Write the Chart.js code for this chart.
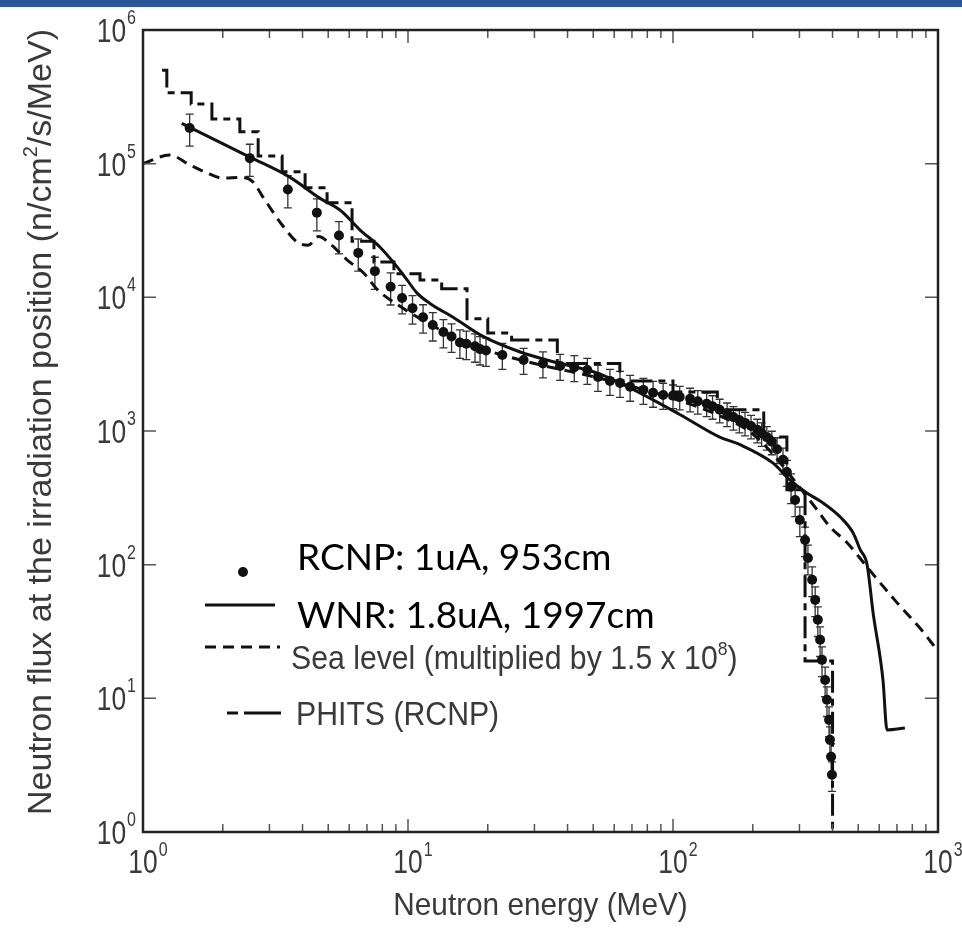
<!DOCTYPE html>
<html>
<head>
<meta charset="utf-8">
<script src="https://cdn.jsdelivr.net/npm/chart.js@4.4.0/dist/chart.umd.min.js"></script>
<style>
html, body { margin: 0; padding: 0; background: #fff; }
#bar { position: absolute; left: 0; top: 0; width: 962px; height: 7px; background: #2b5797; }
#flux { position: absolute; left: 0; top: 0; }
</style>
</head>
<body>
<canvas id="flux" width="962" height="937"></canvas>
<div id="bar"></div>
<script>
// RCNP measured spectrum (MeV, n/cm2/s/MeV) and relative errors
var rcnpE = [1.5, 2.53, 3.52, 4.53, 5.49, 6.49, 7.5, 8.6, 9.5, 10.4, 11.4, 12.4, 13.6, 14.6, 15.7, 16.6, 17.9, 18.7, 19.7, 22.7,
  27.3, 32.3, 37.5, 42.4, 47.5, 52.1, 57.8, 63.1, 68.9, 77.3, 84.1, 91.8, 100, 106, 116, 124, 134, 141, 150, 160,
  169, 178, 187, 197, 208, 216, 226, 236, 247, 260, 269, 279, 289, 301, 315, 323, 335, 344, 352, 359,
  365, 375, 381, 388, 391, 395, 398];
var rcnpF = [1.85e5, 1.10e5, 6.4e4, 4.3e4, 2.9e4, 2.15e4, 1.57e4, 1.2e4, 9.9e3, 8.3e3, 7.1e3, 6.2e3, 5.5e3, 5.1e3, 4.6e3, 4.5e3, 4.3e3, 4.1e3, 4.0e3, 3.7e3,
  3.4e3, 3.2e3, 3.07e3, 3.0e3, 2.86e3, 2.54e3, 2.37e3, 2.29e3, 2.14e3, 2.03e3, 1.93e3, 1.86e3, 1.84e3, 1.8e3, 1.74e3, 1.67e3, 1.6e3, 1.53e3, 1.44e3, 1.35e3,
  1.27e3, 1.21e3, 1.15e3, 1.09e3, 1.02e3, 960, 900, 830, 730, 610, 494, 382, 305, 216, 153, 112, 77, 54.5, 38.7, 27.4,
  19.4, 13.7, 9.75, 6.9, 4.9, 3.66, 2.68];
var rcnpErr = [0.27, 0.27, 0.27, 0.27, 0.27, 0.27, 0.27, 0.27, 0.24, 0.24, 0.24, 0.24, 0.24, 0.24, 0.24, 0.24, 0.24, 0.24, 0.24, 0.22,
  0.22, 0.22, 0.22, 0.22, 0.22, 0.22, 0.22, 0.22, 0.22, 0.22, 0.22, 0.22, 0.2, 0.2, 0.2, 0.2, 0.2, 0.2, 0.2, 0.2,
  0.2, 0.2, 0.2, 0.2, 0.2, 0.2, 0.2, 0.2, 0.22, 0.22, 0.22, 0.25, 0.25, 0.25, 0.25, 0.25, 0.25, 0.25, 0.25, 0.25,
  0.25, 0.25, 0.25, 0.25, 0.25, 0.25, 0.25];

// WNR spectrum (solid)
var wnrE = [1.4, 2.53, 3.59, 4.66, 5.54, 6.58, 7.83, 9.1, 9.92, 10.8, 12.1, 14.8, 19.2, 26.5, 35.3, 51.6, 70.6, 106, 150, 179,
  238, 276, 320, 368, 427, 478, 508, 540, 569, 620, 642, 750];
var wnrF = [2.0e5, 1.12e5, 7.9e4, 5.5e4, 4.5e4, 3.2e4, 2.38e4, 1.69e4, 1.35e4, 1.08e4, 9.0e3, 7.1e3, 5.1e3, 3.9e3, 3.3e3, 2.72e3, 2.05e3, 1.33e3, 900, 790,
  577, 431, 344, 290, 228, 173, 130, 100, 43.6, 13.7, 5.8, 6.0];

// Sea level spectrum x 1.5e8 (dashed)
var seaE = [1.0, 1.26, 1.5, 1.75, 2.0, 2.35, 2.6, 2.84, 3.38, 3.81, 4.2, 4.6, 5.1, 5.9, 6.8, 7.7, 9.3, 11, 14, 20,
  30, 50, 70, 100, 150, 200, 250, 300, 350, 391, 454, 540, 700, 850, 1000];
var seaF = [1.0e5, 1.16e5, 9.8e4, 8.5e4, 7.8e4, 7.9e4, 7.3e4, 5.6e4, 3.4e4, 2.6e4, 2.45e4, 2.85e4, 2.5e4, 1.9e4, 1.52e4, 1.13e4, 8.6e3, 7.0e3, 5.4e3, 4.0e3,
  3.2e3, 2.55e3, 2.15e3, 1.75e3, 1.3e3, 950, 600, 380, 257, 192, 146, 96, 52, 34, 22.6];

// PHITS histogram: bin left edges and bin values
var phitsE = [1.18, 1.23, 1.52, 1.82, 2.32, 2.72, 3.35, 4.09, 4.95, 6.15, 7.44, 8.85, 11.1, 13.4, 16.7, 20.0, 24.6, 36.6, 63, 100,
  147, 220, 269, 315, 400];
var phitsF = [5.0e5, 3.4e5, 2.8e5, 2.16e5, 1.73e5, 1.14e5, 8.7e4, 6.6e4, 5.1e4, 2.63e4, 1.84e4, 1.5e4, 1.35e4, 1.16e4, 6.9e3, 5.4e3, 4.8e3, 3.2e3, 2.37e3, 1.96e3,
  1.44e3, 900, 363, 19, 0.5];

// axes
var xDecades = [1, 10, 100, 1000];
var xExponents = ['0', '1', '2', '3'];
var yDecades = [1, 10, 100, 1000, 1e4, 1e5, 1e6];
var yExponents = ['0', '1', '2', '3', '4', '5', '6'];
var minorSteps = [2, 3, 4, 5, 6, 7, 8, 9];

function pts(xs, ys) {
  return xs.map(function (x, i) { return { x: x, y: ys[i] }; });
}

var GREY = '#3a3a3a';
var HELV = 'Liberation Sans, Arial, sans-serif';

function txt(ctx, s, x, y, size, sx, align, color, family) {
  ctx.save();
  ctx.font = size + 'px ' + (family || HELV);
  ctx.fillStyle = color || GREY;
  ctx.textBaseline = 'alphabetic';
  ctx.textAlign = 'left';
  var w = ctx.measureText(s).width * sx;
  var x0 = align === 'center' ? x - w / 2 : (align === 'right' ? x - w : x);
  ctx.translate(x0, y);
  ctx.scale(sx, 1);
  ctx.fillText(s, 0, 0);
  ctx.restore();
  return w;
}

function textWidth(ctx, s, size, sx, family) {
  ctx.save();
  ctx.font = size + 'px ' + (family || HELV);
  var w = ctx.measureText(s).width * sx;
  ctx.restore();
  return w;
}

var errorBars = {
  id: 'errorBars',
  beforeDatasetsDraw: function (chart) {
    var ctx = chart.ctx, xs = chart.scales.x, ys = chart.scales.y;
    ctx.save();
    ctx.strokeStyle = '#333';
    ctx.lineWidth = 1.3;
    rcnpE.forEach(function (e, i) {
      var px = xs.getPixelForValue(e);
      var top = ys.getPixelForValue(rcnpF[i] * (1 + rcnpErr[i]));
      var bot = ys.getPixelForValue(rcnpF[i] * (1 - rcnpErr[i]));
      ctx.beginPath();
      ctx.moveTo(px, top); ctx.lineTo(px, bot);
      ctx.moveTo(px - 4, top); ctx.lineTo(px + 4, top);
      ctx.moveTo(px - 4, bot); ctx.lineTo(px + 4, bot);
      ctx.stroke();
    });
    ctx.restore();
  }
};

var frame = {
  id: 'frame',
  afterDraw: function (chart) {
    var ctx = chart.ctx, a = chart.chartArea, xs = chart.scales.x, ys = chart.scales.y;
    ctx.save();
    // ticks, inside the frame
    ctx.strokeStyle = '#555';
    ctx.lineWidth = 1.5;
    ctx.beginPath();
    xDecades.forEach(function (d, k) {
      var px = xs.getPixelForValue(d);
      ctx.moveTo(px, a.bottom); ctx.lineTo(px, a.bottom - 13);
      ctx.moveTo(px, a.top); ctx.lineTo(px, a.top + 13);
      if (k < xDecades.length - 1) {
        minorSteps.forEach(function (m) {
          var qx = xs.getPixelForValue(d * m);
          ctx.moveTo(qx, a.bottom); ctx.lineTo(qx, a.bottom - 8);
          ctx.moveTo(qx, a.top); ctx.lineTo(qx, a.top + 8);
        });
      }
    });
    yDecades.forEach(function (d) {
      var py = ys.getPixelForValue(d);
      ctx.moveTo(a.left, py); ctx.lineTo(a.left + 13, py);
      ctx.moveTo(a.right, py); ctx.lineTo(a.right - 13, py);
    });
    ctx.stroke();
    ctx.strokeStyle = '#222';
    ctx.lineWidth = 2.5;
    ctx.strokeRect(a.left, a.top, a.right - a.left, a.bottom - a.top);

    // tick labels 10^n
    var ts = 33, tsx = 0.8, es = 20;
    xDecades.forEach(function (d, k) {
      var px = xs.getPixelForValue(d);
      var w = txt(ctx, '10', px, a.bottom + 41, ts, tsx, 'center');
      txt(ctx, xExponents[k], px + w / 2 + 1, a.bottom + 24, es, tsx, 'left');
    });
    yDecades.forEach(function (d, k) {
      var py = ys.getPixelForValue(d);
      var ew = textWidth(ctx, yExponents[k], es, tsx);
      var right = a.left - 7;
      txt(ctx, yExponents[k], right, py - 6, es, tsx, 'right');
      txt(ctx, '10', right - ew - 1, py + 12, ts, tsx, 'right');
    });

    // axis titles
    txt(ctx, 'Neutron energy (MeV)', (a.left + a.right) / 2, 915, 32, 0.93, 'center');
    ctx.save();
    ctx.translate(51, (a.top + a.bottom) / 2 - 9);
    ctx.rotate(-Math.PI / 2);
    var p1 = 'Neutron flux at the irradiation position (n/cm', p2 = '2', p3 = '/s/MeV)';
    var tsz = 34, tx = 1.0;
    var w1 = textWidth(ctx, p1, tsz, tx), w2 = textWidth(ctx, p2, 20, tx), w3 = textWidth(ctx, p3, tsz, tx);
    var start = -(w1 + w2 + w3) / 2;
    txt(ctx, p1, start, 0, tsz, tx, 'left');
    txt(ctx, p2, start + w1, -14, 20, tx, 'left');
    txt(ctx, p3, start + w1 + w2, 0, tsz, tx, 'left');
    ctx.restore();

    // legend: original entries
    ctx.strokeStyle = '#111';
    ctx.lineWidth = 3;
    ctx.setLineDash([11, 7]);
    ctx.beginPath(); ctx.moveTo(205, 647); ctx.lineTo(280, 647); ctx.stroke();
    var sw = txt(ctx, 'Sea level (multiplied by 1.5 x 10', 291, 669, 32.5, 0.93, 'left');
    var ew8 = txt(ctx, '8', 291 + sw, 655, 19, 0.93, 'left');
    txt(ctx, ')', 291 + sw + ew8, 669, 32.5, 0.93, 'left');
    ctx.setLineDash([11, 6, 36, 0]);
    ctx.beginPath(); ctx.moveTo(227, 713); ctx.lineTo(281, 713); ctx.stroke();
    ctx.setLineDash([]);
    txt(ctx, 'PHITS (RCNP)', 296, 725, 32.5, 0.93, 'left');

    // pasted-over entries on a white patch
    ctx.fillStyle = '#fff';
    ctx.fillRect(198, 530, 472, 111);
    ctx.fillStyle = '#111';
    ctx.beginPath(); ctx.arc(243, 572, 5, 0, Math.PI * 2); ctx.fill();
    ctx.beginPath(); ctx.moveTo(205, 605); ctx.lineTo(275, 605); ctx.stroke();
    txt(ctx, 'RCNP: 1uA, 953cm', 297, 570, 37, 1, 'left', '#000', 'Lato, sans-serif');
    txt(ctx, 'WNR: 1.8uA, 1997cm', 297, 628, 37, 1, 'left', '#000', 'Lato, sans-serif');
    ctx.restore();
  }
};

var ctx = document.getElementById('flux').getContext('2d');
var chart = new Chart(ctx, {
  type: 'scatter',
  data: {
    datasets: [{
      label: 'RCNP: 1uA, 953cm',
      data: pts(rcnpE, rcnpF),
      showLine: false,
      pointRadius: 5,
      pointBackgroundColor: '#111',
      pointBorderColor: '#111',
      pointBorderWidth: 0
    }, {
      label: 'WNR: 1.8uA, 1997cm',
      data: pts(wnrE, wnrF),
      showLine: true,
      pointRadius: 0,
      borderColor: '#111',
      borderWidth: 3,
      cubicInterpolationMode: 'monotone'
    }, {
      label: 'Sea level (multiplied by 1.5 x 10^8)',
      data: pts(seaE, seaF),
      showLine: true,
      pointRadius: 0,
      borderColor: '#111',
      borderWidth: 3,
      borderDash: [11, 7],
      cubicInterpolationMode: 'monotone'
    }, {
      label: 'PHITS (RCNP)',
      data: pts(phitsE, phitsF),
      showLine: true,
      pointRadius: 0,
      borderColor: '#111',
      borderWidth: 3,
      borderDash: [22, 6, 7, 6],
      stepped: 'before',
      clip: 0
    }]
  },
  options: {
    responsive: false,
    animation: false,
    devicePixelRatio: 1,
    layout: { padding: { top: 30, right: 24, left: 0, bottom: 0 } },
    plugins: { legend: { display: false }, tooltip: { enabled: false } },
    scales: {
      x: {
        type: 'logarithmic', min: 1, max: 1000,
        grid: { display: false }, border: { display: false },
        ticks: { display: false },
        afterFit: function (s) { s.height = 105; }
      },
      y: {
        type: 'logarithmic', min: 1, max: 1e6,
        grid: { display: false }, border: { display: false },
        ticks: { display: false },
        afterFit: function (s) { s.width = 143; }
      }
    }
  },
  plugins: [errorBars, frame]
});
</script>
</body>
</html>
